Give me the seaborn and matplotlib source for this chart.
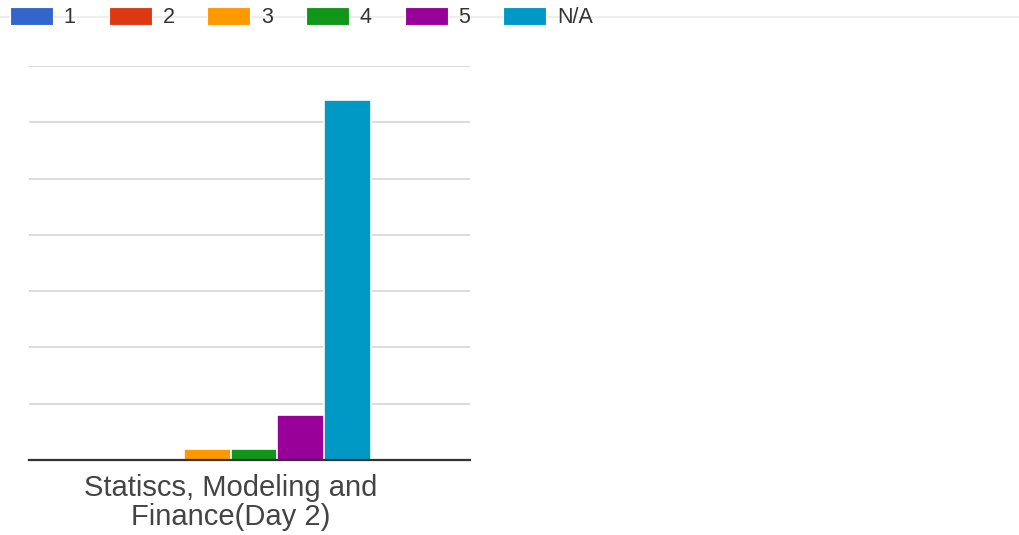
import matplotlib
matplotlib.use("Agg")
import matplotlib.pyplot as plt
from matplotlib.lines import Line2D
import seaborn as sns
import pandas as pd

# data
category = "Statiscs, Modeling and\nFinance(Day 2)"
ratings = ["1", "2", "3", "4", "5", "N/A"]
counts = [0, 0, 1, 1, 4, 32]
colors = ["#3366CC", "#DC3912", "#FF9900", "#109618", "#990099", "#0099C6"]

df = pd.DataFrame({"Session": [category] * len(ratings), "Rating": ratings, "Count": counts})

sns.set_theme(style="white")
plt.rcParams["font.family"] = ["Liberation Sans", "DejaVu Sans"]

W, H = 1020, 535
fig = plt.figure(figsize=(W / 100, H / 100), dpi=100)
ax = fig.add_axes([29 / W, 1 - 460 / H, (470 - 29) / W, (460 - 66) / H])

sns.barplot(data=df, x="Session", y="Count", hue="Rating", hue_order=ratings,
            palette=colors, saturation=1, width=0.8, edgecolor="white", linewidth=1.2,
            ax=ax, legend=False)

ax.set_xlim(-0.574, 0.682)
ax.set_ylim(0, 35)
ax.set_yticks(range(0, 36, 5))
ax.set_yticklabels([])
ax.grid(True, axis="y", color="#d6d6d6", linewidth=1.2)
ax.set_axisbelow(True)
for s in ["top", "right", "left"]:
    ax.spines[s].set_visible(False)
ax.spines["bottom"].set_color("#333333")
ax.spines["bottom"].set_linewidth(1.6)
ax.tick_params(axis="both", length=0)
ax.tick_params(axis="x", pad=10)
ax.set_xlabel("")
ax.set_ylabel("")
for lab in ax.get_xticklabels():
    lab.set_fontsize(21)
    lab.set_color("#444444")
    lab.set_linespacing(1.05)
    lab.set_ha("center")

# thin line behind the legend
fig.add_artist(Line2D([0, 1], [1 - 17 / H, 1 - 17 / H], color="#eeeeee",
                      linewidth=1.5, transform=fig.transFigure, zorder=0))

handles = [plt.Rectangle((0, 0), 1, 1, facecolor=c, edgecolor="white", linewidth=0.8)
           for c in colors]
fig.legend(handles, ratings, loc="upper left", bbox_to_anchor=(10 / W, 1 - 7 / H),
           ncol=len(ratings), frameon=False, fontsize=15.5, labelcolor="#333333",
           handlelength=2.0, handleheight=0.9, handletextpad=0.5,
           columnspacing=1.53, borderpad=0, borderaxespad=0)

fig.savefig("out.png", dpi=100, facecolor="white")
